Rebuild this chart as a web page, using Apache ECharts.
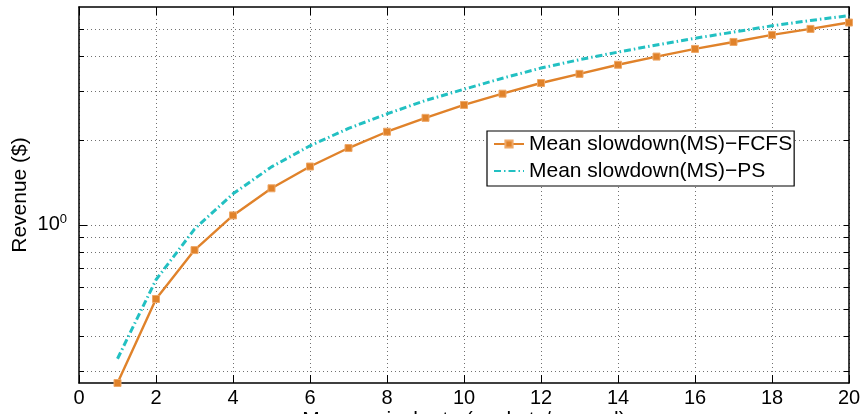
<!DOCTYPE html>
<html>
<head>
<meta charset="utf-8">
<script src="https://cdn.jsdelivr.net/npm/echarts@6/dist/echarts.min.js"></script>
<style>
  html, body { margin: 0; padding: 0; background: #fff; }
  #chart { width: 862px; height: 414px; }
</style>
</head>
<body>
<div id="chart"></div>
<script>
// Arrival rates (packets/second)
const arrivalRates = [1, 2, 3, 4, 5, 6, 7, 8, 9, 10, 11, 12, 13, 14, 15, 16, 17, 18, 19, 20];
// Revenue ($) under FCFS scheduling
const revenueFCFS = [0.272, 0.543, 0.812, 1.08, 1.35, 1.615, 1.88, 2.15, 2.41, 2.68,
                     2.94, 3.21, 3.46, 3.73, 3.99, 4.25, 4.50, 4.77, 5.01, 5.28];
// Revenue ($) under PS scheduling
const revenuePS = [0.332, 0.636, 0.965, 1.29, 1.61, 1.915, 2.21, 2.49, 2.78, 3.05,
                   3.34, 3.63, 3.89, 4.14, 4.39, 4.64, 4.88, 5.14, 5.37, 5.59];
// Log-axis tick positions and labels
const yTickValues = [0.3, 0.4, 0.5, 0.6, 0.7, 0.8, 0.9, 1, 2, 3, 4, 5];
const yMajorTicks = [1];
const seriesNames = ['Mean slowdown(MS)\u2212FCFS', 'Mean slowdown(MS)\u2212PS'];

const FONT = 'Liberation Sans, Arial, Helvetica, sans-serif';
const Y_MIN = 0.272, Y_MAX = 6;
const ORANGE = '#e0822a', CYAN = '#22c0c2';

const chart = echarts.init(document.getElementById('chart'), null, { renderer: 'canvas' });

const gridDots = { type: [1, 3], color: '#707070', width: 1 };
const frame = { show: true, onZero: false, lineStyle: { color: '#000', width: 1.5 } };

chart.setOption({
  animation: false,
  backgroundColor: '#fff',
  grid: { left: 79, right: 13, top: 7, bottom: 31, outerBoundsMode: 'none', containLabel: false },
  legend: {
    orient: 'vertical',
    left: 487, top: 131,
    padding: [2, 2, 4, 6],
    itemWidth: 30, itemHeight: 9, itemGap: 5,
    backgroundColor: '#fff',
    borderColor: '#000', borderWidth: 1.2, borderRadius: 0,
    textStyle: { fontFamily: FONT, fontSize: 21, color: '#000', lineHeight: 22 },
    data: seriesNames
  },
  xAxis: [
    {
      type: 'value', min: 0, max: 20, interval: 2, position: 'bottom',
      axisLine: frame,
      axisTick: { inside: true, length: 8, lineStyle: { color: '#000', width: 1 } },
      axisLabel: { fontFamily: FONT, fontSize: 20, color: '#000', margin: 5 },
      splitLine: { show: true, lineStyle: gridDots },
      name: 'Mean arrival rate (packets/second)',
      nameLocation: 'middle', nameGap: 27, nameMoveOverlap: false,
      nameTextStyle: { fontFamily: FONT, fontSize: 21, color: '#000' }
    },
    {
      type: 'value', min: 0, max: 20, interval: 2, position: 'top',
      axisLine: frame,
      axisTick: { inside: true, length: 8, lineStyle: { color: '#000', width: 1 } },
      axisLabel: { show: false },
      splitLine: { show: false }
    }
  ],
  yAxis: [
    {
      type: 'log', logBase: 10, min: Y_MIN, max: Y_MAX, position: 'left',
      axisLine: frame,
      axisTick: { inside: true, length: 5, customValues: yTickValues, lineStyle: { color: '#000', width: 1 } },
      axisLabel: {
        customValues: yMajorTicks,
        margin: 12,
        formatter: () => '{b|10}{s|0}',
        rich: {
          b: { fontFamily: FONT, fontSize: 20, color: '#000' },
          s: { fontFamily: FONT, fontSize: 13, color: '#000', padding: [0, 0, 10, 0] }
        }
      },
      splitLine: { show: true, lineStyle: gridDots },
      name: 'Revenue ($)',
      nameLocation: 'middle', nameGap: 48, nameRotate: 90, nameMoveOverlap: false,
      nameTextStyle: { fontFamily: FONT, fontSize: 21, color: '#000' }
    },
    {
      type: 'log', logBase: 10, min: Y_MIN, max: Y_MAX, position: 'right',
      axisLine: frame,
      axisTick: { inside: true, length: 5, customValues: yTickValues, lineStyle: { color: '#000', width: 1 } },
      axisLabel: { show: false },
      splitLine: { show: false }
    },
    {
      type: 'log', logBase: 10, min: Y_MIN, max: Y_MAX, position: 'left', offset: 0,
      axisLine: { show: false },
      axisTick: { inside: true, length: 8, customValues: yMajorTicks, lineStyle: { color: '#000', width: 1 } },
      axisLabel: { show: false },
      splitLine: { show: false }
    }
  ],
  series: [
    {
      name: seriesNames[0], type: 'line',
      data: arrivalRates.map((x, i) => [x, revenueFCFS[i]]),
      symbol: 'rect', symbolSize: 7, showSymbol: true, clip: false,
      lineStyle: { color: ORANGE, width: 2.4 },
      itemStyle: { color: ORANGE, borderColor: '#eea868', borderWidth: 1 },
      z: 3
    },
    {
      name: seriesNames[1], type: 'line',
      data: arrivalRates.map((x, i) => [x, revenuePS[i]]),
      symbol: 'none', clip: false,
      lineStyle: { color: CYAN, width: 3, type: [7, 3, 1.5, 3] },
      // no point markers: keep the legend swatch to the dash-dot line only
      itemStyle: { color: 'rgba(0,0,0,0)', borderWidth: 0 },
      z: 2
    }
  ]
});
</script>
</body>
</html>
